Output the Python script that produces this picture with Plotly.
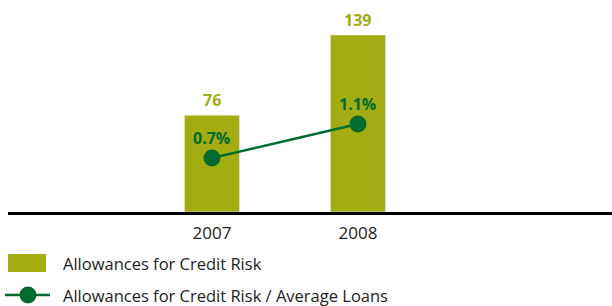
import plotly.graph_objects as go

years = ["2007", "2008"]
allowances = [76, 139]
ratio_pct = [0.7, 1.1]
ratio_labels = ["0.7%", "1.1%"]
legend_names = ["Allowances for Credit Risk", "Allowances for Credit Risk / Average Loans"]

BAR = "#A3AD12"
LINE = "#006B2F"
FONT = "Open Sans"

fig = go.Figure()
fig.add_trace(go.Bar(x=years, y=allowances, marker_color=BAR, width=0.377,
                     name=legend_names[0], showlegend=False, yaxis="y"))
fig.add_trace(go.Scatter(x=years, y=ratio_pct, mode="lines+markers",
                         line=dict(color=LINE, width=2.5),
                         marker=dict(color=LINE, size=17),
                         name=legend_names[1], showlegend=False, yaxis="y2"))

ann = []
for i, v in enumerate(allowances):
    ann.append(dict(x=i, y=v, xref="x", yref="y", text=f"<b>{v}</b>", showarrow=False,
                    yanchor="bottom", yshift=2, font=dict(color=BAR, size=16, family=FONT)))
for i, (v, t) in enumerate(zip(ratio_pct, ratio_labels)):
    ann.append(dict(x=i, y=v, xref="x", yref="y2", text=f"<b>{t}</b>", showarrow=False,
                    yanchor="middle", yshift=20, font=dict(color=LINE, size=16, family=FONT)))

# custom legend
W, H = 604, 212
def px(x): return (x - 8) / W
def py(y): return (H - y) / H

shapes = [
    dict(type="rect", xref="paper", yref="paper", x0=px(8), x1=px(46), y0=py(272), y1=py(254),
         fillcolor=BAR, line=dict(width=0)),
    dict(type="line", xref="paper", yref="paper", x0=px(5), x1=px(50), y0=py(295), y1=py(295),
         line=dict(color=LINE, width=2.5)),
    dict(type="circle", xref="paper", yref="paper", xsizemode="pixel", ysizemode="pixel",
         xanchor=px(28), yanchor=py(295), x0=-8.5, x1=8.5, y0=-8.5, y1=8.5,
         fillcolor=LINE, line=dict(width=0)),
]
for name, yy in zip(legend_names, [263, 295]):
    ann.append(dict(x=px(61), y=py(yy), xref="paper", yref="paper", text=name, showarrow=False,
                    xanchor="left", yanchor="middle", font=dict(color="#222222", size=16.5, family=FONT)))

fig.update_layout(
    width=612, height=306,
    margin=dict(l=8, r=0, t=0, b=94),
    paper_bgcolor="white", plot_bgcolor="white",
    font=dict(family=FONT),
    xaxis=dict(type="category", range=[-1.397, 2.74], showline=True, linecolor="black",
               linewidth=3, ticks="", showgrid=False, zeroline=False, ticklabelstandoff=4,
               tickfont=dict(size=17, color="#222222")),
    yaxis=dict(range=[0, 166.5], visible=False, showgrid=False, zeroline=False),
    yaxis2=dict(range=[0.065, 2.559], overlaying="y", visible=False, showgrid=False, zeroline=False),
    annotations=ann, shapes=shapes,
)
fig.write_html("out.html", config={"displayModeBar": False},
               post_script="document.body.style.margin='0';")
